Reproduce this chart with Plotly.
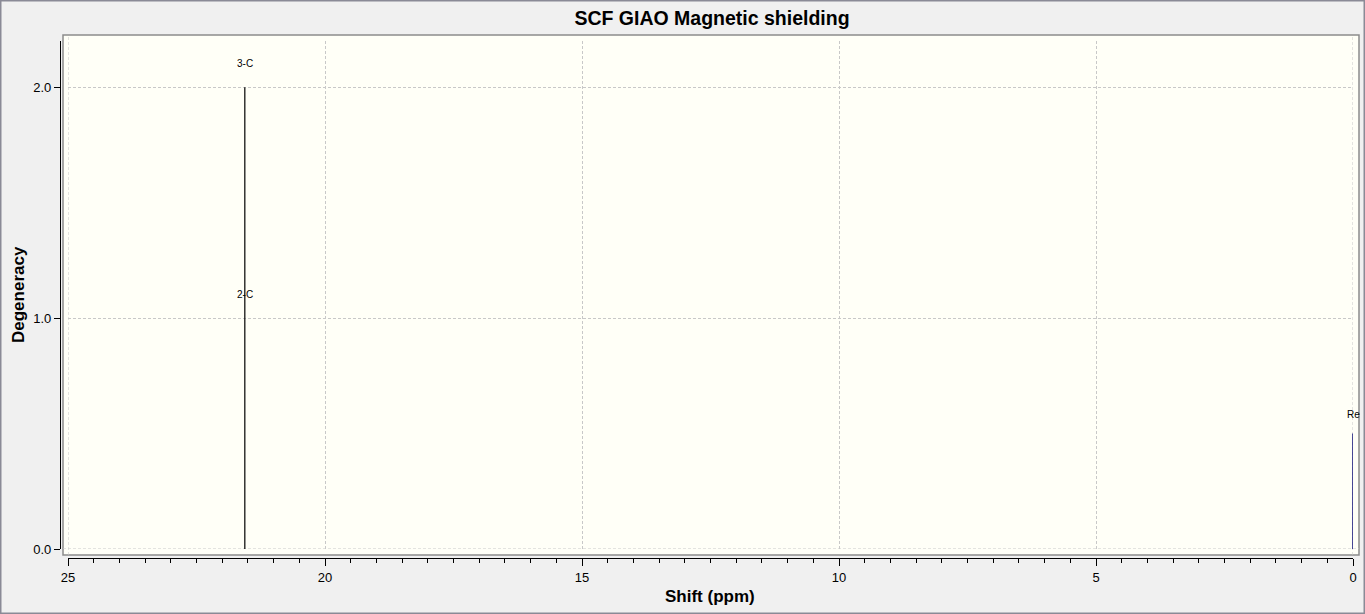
import plotly.graph_objects as go

# NMR stick spectrum
peak_shift = [21.56]
peak_degeneracy = [2]
atom_labels = ["2-C", "3-C"]
label_levels = [1, 2]

ref_shift = [0.0]
ref_height = [0.5]
ref_label = ["Re"]

x_ticks = [25, 20, 15, 10, 5, 0]
y_ticks = [0, 1, 2]

W, H = 1365, 614
FONT = "Liberation Sans, Arial, sans-serif"
GRID = "#c8c8c8"


def px_x(p):
    return p / W


def px_y(p):
    return (H - p) / H


fig = go.Figure()

# carbon sticks
xs, ys = [], []
for s, d in zip(peak_shift, peak_degeneracy):
    xs += [s, s, None]
    ys += [0, d, None]
fig.add_trace(go.Scatter(x=xs, y=ys, mode="lines",
                         line=dict(color="black", width=1.2),
                         hoverinfo="skip", showlegend=False))

# reference line
xs, ys = [], []
for s, h in zip(ref_shift, ref_height):
    xs += [s, s, None]
    ys += [0, h, None]
fig.add_trace(go.Scatter(x=xs, y=ys, mode="lines",
                         line=dict(color="#000070", width=1.4),
                         hoverinfo="skip", showlegend=False))

annotations = []
for lab, lvl in zip(atom_labels, label_levels):
    annotations.append(dict(x=peak_shift[0], y=lvl, text=lab, showarrow=False,
                            xref="x", yref="y", xanchor="center", yanchor="bottom",
                            yshift=16,
                            font=dict(family=FONT, size=10, color="black")))
for s, h, lab in zip(ref_shift, ref_height, ref_label):
    annotations.append(dict(x=s, y=h, text=lab, showarrow=False,
                            xref="x", yref="y", xanchor="center", yanchor="bottom",
                            yshift=12,
                            font=dict(family=FONT, size=10, color="black")))

# axis titles
annotations.append(dict(x=px_x(710), y=px_y(596), xref="paper", yref="paper",
                        xanchor="center", yanchor="middle",
                        text="<b>Shift (ppm)</b>", showarrow=False,
                        font=dict(family=FONT, size=17, color="black")))
annotations.append(dict(x=px_x(18), y=px_y(295), xref="paper", yref="paper",
                        xanchor="center", yanchor="middle",
                        text="<b>Degeneracy</b>", showarrow=False, textangle=-90,
                        font=dict(family=FONT, size=17, color="black")))

shapes = [
    # plot frame
    dict(type="rect", xref="paper", yref="paper", layer="below",
         x0=px_x(63), x1=px_x(1359), y0=px_y(555), y1=px_y(35),
         fillcolor="#fffff7", line=dict(color="#8c8c8c", width=1.5)),
    # window border
    dict(type="rect", xref="paper", yref="paper", layer="below",
         x0=0, x1=1, y0=0, y1=1,
         line=dict(color="#8a8a96", width=3)),
]

# grid lines at the range edges (plotly skips them)
for xv in (x_ticks[0], x_ticks[-1]):
    shapes.append(dict(type="line", xref="x", yref="paper", layer="below",
                       x0=xv, x1=xv, y0=px_y(555), y1=px_y(35),
                       line=dict(color=GRID, width=1, dash="3px,2px")))
shapes.append(dict(type="line", xref="paper", yref="y", layer="below",
                   x0=px_x(63), x1=px_x(1359), y0=y_ticks[0], y1=y_ticks[0],
                   line=dict(color=GRID, width=1, dash="3px,2px")))

grid = dict(showgrid=True, gridcolor=GRID, gridwidth=1, griddash="3px,2px")

fig.update_layout(
    width=W, height=H,
    margin=dict(l=0, r=0, t=0, b=0),
    paper_bgcolor="#f0f0f0",
    plot_bgcolor="rgba(0,0,0,0)",
    title=dict(text="<b>SCF GIAO Magnetic shielding</b>", x=px_x(712), y=px_y(18),
               xanchor="center", yanchor="middle",
               font=dict(family=FONT, size=19.5, color="black")),
    xaxis=dict(domain=[px_x(68), px_x(1353)], range=[25, 0],
               anchor="free", position=px_y(558),
               tickvals=x_ticks, ticks="outside", ticklen=7, tickcolor="black",
               showline=True, linecolor="black", linewidth=1.2,
               zeroline=False, automargin=False,
               tickfont=dict(family=FONT, size=13, color="black"),
               minor=dict(dtick=0.5, ticks="outside", ticklen=4,
                          tickcolor="black", showgrid=False),
               **grid),
    yaxis=dict(domain=[px_y(549), px_y(41)], range=[0, 2.2],
               anchor="free", position=px_x(60),
               tickvals=y_ticks, tickformat=".1f", ticks="outside", ticklen=6,
               tickcolor="black", showline=True, linecolor="black", linewidth=1.2,
               zeroline=False, automargin=False,
               tickfont=dict(family=FONT, size=13, color="black"),
               **grid),
    annotations=annotations,
    shapes=shapes,
)

fig.write_html("out.html", config={"displayModeBar": False},
               post_script="document.body.style.margin='0px';")
